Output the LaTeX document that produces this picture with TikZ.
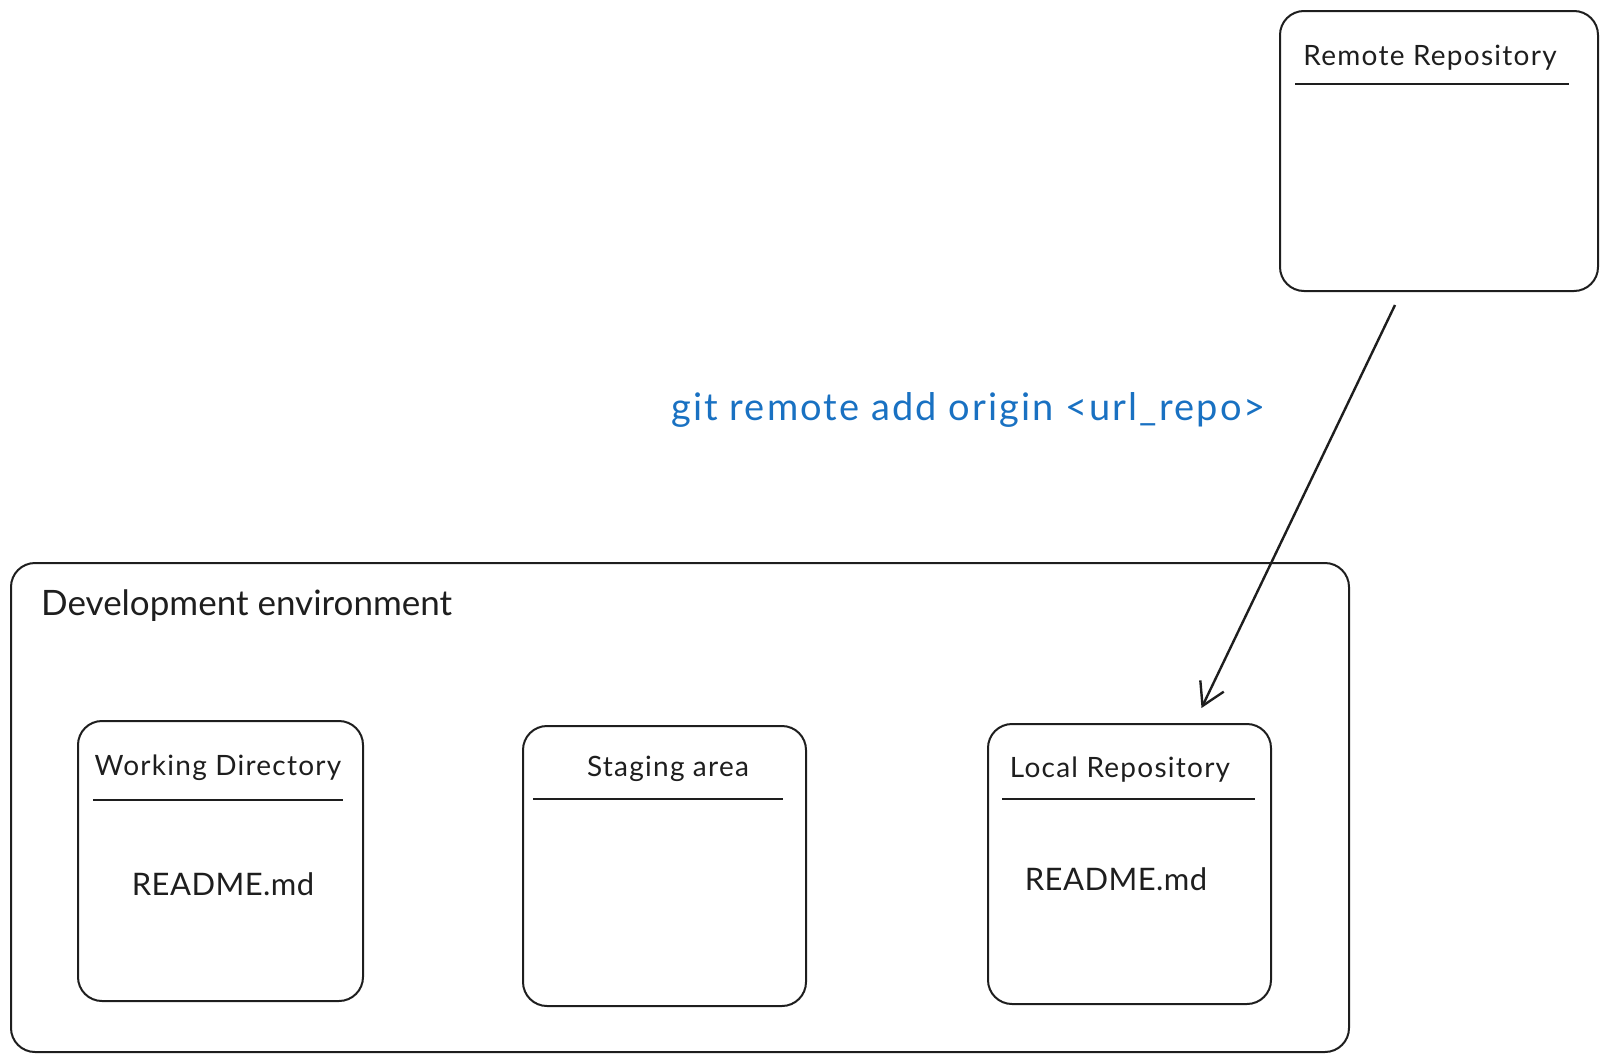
\documentclass[tikz,border=0pt]{standalone}
\usepackage{fontspec}
\setmainfont{Lato}
\usetikzlibrary{arrows.meta,calc}
\definecolor{exblue}{HTML}{1971C2}
\definecolor{ink}{HTML}{1E1E1E}
\tikzset{
  card/.style={draw=ink, line width=2pt, rounded corners=24pt, inner sep=0pt},
  rule/.style={draw=ink, line width=2.4pt},
  ttl/.style={anchor=base, text=ink, font=\fontsize{28}{32}\selectfont\addfontfeatures{LetterSpace=4.5}, inner sep=0pt},
  file/.style={anchor=base, text=ink, font=\fontsize{31}{36}\selectfont\addfontfeatures{LetterSpace=1.5}, inner sep=0pt},
  conn/.style={draw=ink, line width=2.4pt, -{Straight Barb[length=22pt,width=26pt,line width=2.4pt]}},
}
\begin{document}
\begin{tikzpicture}[x=1pt,y=-1pt]
\useasboundingbox (0,0) rectangle (1607,1060);
% containers
\node[card, minimum width=1338pt, minimum height=489pt, anchor=north west] (dev) at (10,562) {};
\node[card, minimum width=318pt, minimum height=280pt, anchor=north west] (remote) at (1279,10) {};
\node[card, minimum width=285pt, minimum height=280pt, anchor=north west] (wd) at (77,720) {};
\node[card, minimum width=283pt, minimum height=280pt, anchor=north west] (stage) at (522,725) {};
\node[card, minimum width=283pt, minimum height=280pt, anchor=north west] (local) at (987,723) {};
% titles
\node[anchor=base west, text=ink, font=\fontsize{35}{40}\selectfont, inner sep=0pt] (devt) at (41,615) {Development environment};
\node[ttl] (remotet) at (1430,65) {Remote Repository};
\node[ttl] (wdt) at (218,775) {Working Directory};
\node[ttl] (staget) at (668,776) {Staging area};
\node[ttl] (localt) at (1120,777) {Local Repository};
% underlines
\draw[rule] (1295,84) -- (1569,84);
\draw[rule] (93,800) -- (343,800);
\draw[rule] (533,799) -- (783,799);
\draw[rule] (1002,799) -- (1255,799);
% files
\node[file] (wdf) at (223,895) {README.md};
\node[file] (localf) at (1116,890) {README.md};
% command label
\node[anchor=base west, text=exblue, font=\fontsize{38}{44}\selectfont\addfontfeatures{LetterSpace=5.5}, inner sep=0pt] (cmd) at (671,420) {git remote add origin <url\_repo>};
% connector
\draw[conn] ([shift={(-44,13)}]remote.south) -- ([shift={(72,-15)}]local.north);
\end{tikzpicture}
\end{document}
